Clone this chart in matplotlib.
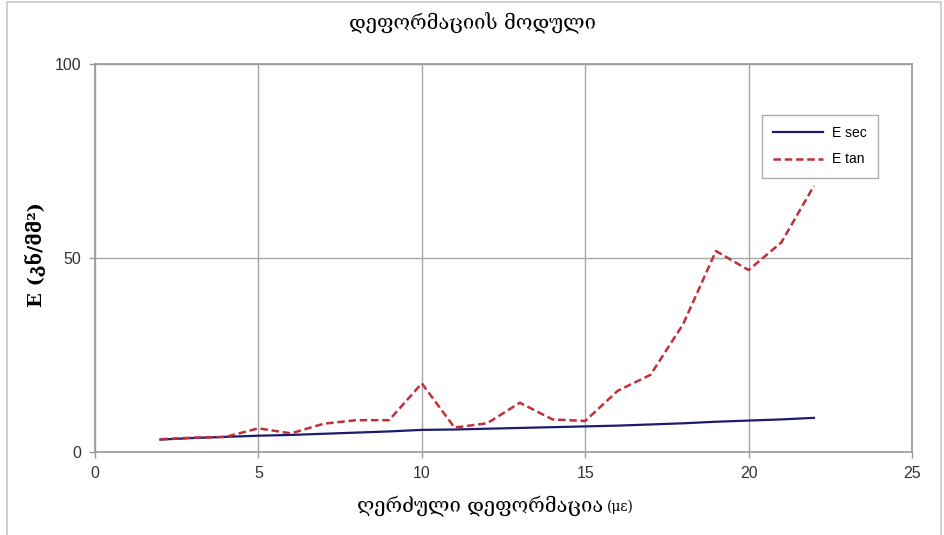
import matplotlib.pyplot as plt
from matplotlib.patches import Rectangle

strain = list(range(2, 23))
e_sec = [3.2, 3.6, 3.9, 4.2, 4.4, 4.7, 5.0, 5.3, 5.7, 5.8, 6.0,
         6.2, 6.4, 6.6, 6.8, 7.1, 7.4, 7.8, 8.1, 8.4, 8.8]
e_tan = [3.3, 3.7, 3.9, 6.1, 4.8, 7.3, 8.2, 8.2, 17.7, 6.3, 7.4,
         12.7, 8.4, 8.0, 15.8, 19.9, 33.0, 51.8, 46.9, 54.0, 68.6]

fig = plt.figure(figsize=(9.45, 5.35), dpi=100)
ax = fig.add_axes([95 / 945, 83 / 535, 817 / 945, 388 / 535])

# outer chart frame
fig.patches.append(Rectangle((7 / 945, -0.02), 934 / 945, 1.017,
                             transform=fig.transFigure, fill=False,
                             edgecolor="#c8c8c8", linewidth=1.2))

ax.plot(strain, e_sec, color="#1c1c6e", linewidth=1.6, label="E sec")
ax.plot(strain, e_tan, color="#c0303a", linewidth=1.8, linestyle=(0, (3, 1.5)),
        label="E tan")

ax.set_xlim(0, 25)
ax.set_ylim(0, 100)
ax.set_xticks([0, 5, 10, 15, 20, 25])
ax.set_yticks([0, 50, 100])
ax.grid(True, color="#a8a8a8", linewidth=1.0)
for s in ax.spines.values():
    s.set_color("#999999")
    s.set_linewidth(1.2)
ax.tick_params(colors="#999999", length=4, width=1, labelcolor="#333333",
               labelsize=11.5, pad=6)
for lab in ax.get_xticklabels() + ax.get_yticklabels():
    lab.set_family("Liberation Sans")

geo = ["DejaVu Serif", "DejaVu Sans"]
fig.text(0.5, 0.957, "დეფორმაციის მოდული", ha="center", va="center",
         fontsize=14.5, family=geo)
fig.text(603 / 945, 0.054, "ღერძული დეფორმაცია", ha="right", va="center",
         fontsize=14.5, family=geo)
fig.text(607 / 945, 0.052, "(με)", ha="left", va="center", fontsize=10,
         family=geo)
fig.text(35 / 945, 0.525, "E (კნ/მმ²)", ha="center", va="center",
         rotation=90, fontsize=14, family=geo, fontweight="bold")

leg = ax.legend(loc="upper right", bbox_to_anchor=(0.958, 0.869),
                borderaxespad=0,
                prop={"family": "Liberation Sans", "size": 10},
                frameon=True, fancybox=False, edgecolor="#999999",
                handlelength=3.6, borderpad=0.8, labelspacing=0.9,
                handletextpad=0.6)
leg.get_frame().set_linewidth(1.0)

fig.savefig("out.png", dpi=100)
